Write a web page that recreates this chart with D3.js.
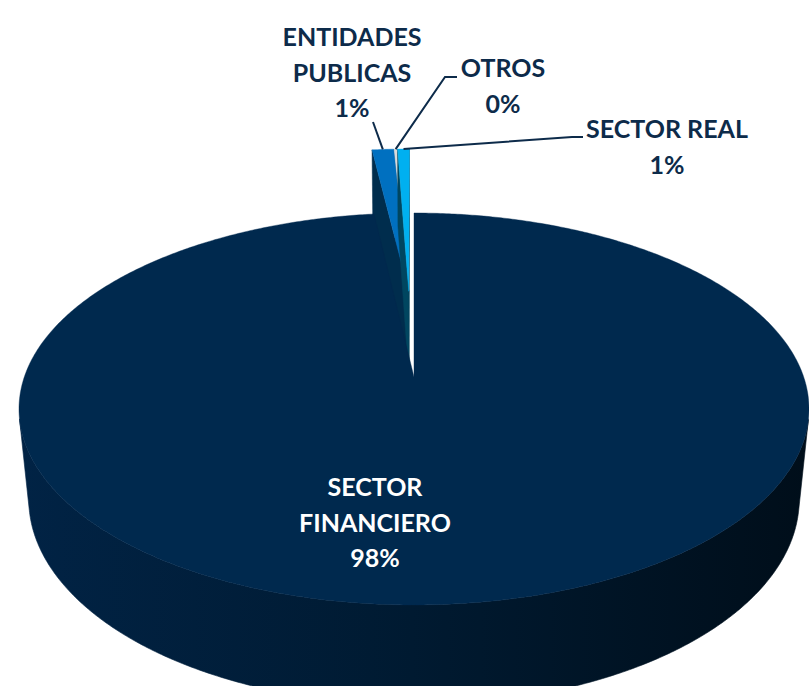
<!DOCTYPE html>
<html><head><meta charset="utf-8">
<script src="https://cdn.jsdelivr.net/npm/d3@7"></script>
<style>html,body{margin:0;padding:0;background:#fff;overflow:hidden}</style>
</head><body>
<svg id="chart" width="809" height="686"></svg>
<script>
// ---- data ----
const categories = ["SECTOR FINANCIERO", "ENTIDADES PUBLICAS", "OTROS", "SECTOR REAL"];
const labelLines = [["SECTOR", "FINANCIERO"], ["ENTIDADES", "PUBLICAS"], ["OTROS"], ["SECTOR REAL"]];
const values = [98.1, 1.1, 0.2, 0.6];
const percentLabels = ["98%", "1%", "0%", "1%"];
const colors = ["#00294E", "#0070C0", "#D9D9D9", "#00B0F0"];
const explodedFlags = [false, true, true, true];

// ---- 3D perspective set-up ----
const W = 809, H = 686;
const svg = d3.select("#chart");
const cx = 414, cy = 377, focal = 2083, dist = 5.345;
const sT = 0.4895, cT = Math.sqrt(1 - sT * sT);
const thick = 0.27, explode = 0.485, explodeDir = -0.03;
function proj(X, Y, Z) {
  const zc = dist - Z * cT - Y * sT;
  return [cx + focal * X / zc, cy + focal * (Z * sT - Y * cT) / zc];
}
const cam = [0, dist * sT, dist * cT];
const rim = a => [Math.sin(a), -Math.cos(a)];

const pie = d3.pie().sort(null).value(d => d)(values);
const line = d3.line();

function darken(col, k) {
  const c = d3.rgb(col);
  return d3.rgb(c.r * k, c.g * k, c.b * k).formatHex();
}

// gradient for side walls
const defs = svg.append("defs");
const grad = defs.append("linearGradient").attr("id", "wallGrad")
  .attr("gradientUnits", "userSpaceOnUse").attr("x1", 17).attr("x2", 808).attr("y1", 0).attr("y2", 0);
grad.append("stop").attr("offset", 0).attr("stop-color", "#012345");
grad.append("stop").attr("offset", 0.5).attr("stop-color", "#001A31");
grad.append("stop").attr("offset", 1).attr("stop-color", "#000E1A");

const gPie = svg.append("g");

function drawSlice(p, i) {
  const ox = explodedFlags[i] ? explode * Math.sin(explodeDir) : 0;
  const oz = explodedFlags[i] ? -explode * Math.cos(explodeDir) : 0;
  const a0 = p.startAngle, a1 = p.endAngle;
  const P = (a, r, Y) => { const [x, z] = rim(a); return proj(ox + r * x, Y, oz + r * z); };
  const g = gPie.append("g").attr("class", "slice-" + i);
  const step = 0.5 * Math.PI / 180;
  const n = Math.max(2, Math.ceil((a1 - a0) / step));
  const angs = d3.range(n + 1).map(k => a0 + (a1 - a0) * k / n);

  // cut faces
  const faces = [];
  [[a0, -1], [a1, 1]].forEach(([a, sg]) => {
    const nx = sg * Math.cos(a), nz = sg * Math.sin(a);
    const vis = nx * (cam[0] - ox) + nz * (cam[2] - oz);
    if (vis > 1e-6 && (a1 - a0) < 2 * Math.PI - 1e-6) {
      faces.push([P(a, 0, 0), P(a, 1, 0), P(a, 1, -thick), P(a, 0, -thick)]);
    }
  });
  faces.forEach(f => g.append("path").attr("d", line(f) + "Z")
    .attr("fill", darken(colors[i], 0.4)).attr("stroke", darken(colors[i], 0.4)).attr("stroke-width", 0.5));

  // outer wall: visible runs
  let run = [];
  const runs = [];
  for (let k = 0; k < n; k++) {
    const am = (angs[k] + angs[k + 1]) / 2;
    const [x, z] = rim(am);
    const vis = x * (cam[0] - ox - x) + z * (cam[2] - oz - z);
    if (vis > 0) { if (!run.length) run.push(angs[k]); run.push(angs[k + 1]); }
    else if (run.length) { runs.push(run); run = []; }
  }
  if (run.length) runs.push(run);
  runs.forEach(r => {
    const pts = r.map(a => P(a, 1, 0)).concat(r.slice().reverse().map(a => P(a, 1, -thick)));
    const fill = i === 0 ? "url(#wallGrad)" : darken(colors[i], 0.6);
    g.append("path").attr("d", line(pts) + "Z").attr("fill", fill).attr("stroke", fill).attr("stroke-width", 0.6);
  });

  // top face
  const top = [P(0, 0, 0)].concat(angs.map(a => P(a, 1, 0)));
  g.append("path").attr("d", line(top) + "Z").attr("fill", colors[i])
    .attr("stroke", colors[i]).attr("stroke-width", 0.4);
  return { anchor: P((a0 + a1) / 2, 1, 0) };
}

// exploded (rear) slices first, then main slice
const anchors = [];
[2, 1, 3, 0].forEach(i => { anchors[i] = drawSlice(pie[i], i).anchor; });

// ---- labels ----
const txtCol = "#0D2B4A";
const font = "Lato, 'Open Sans', sans-serif";
const labelPos = [
  { x: 375, y: 496, color: "#FFFFFF" },
  { x: 352, y: 46, color: txtCol, lead: [[373, 122]] },
  { x: 503, y: 77, color: txtCol, lead: [[457, 77], [445, 77]] },
  { x: 667, y: 138, color: txtCol, lead: [[583, 137], [572, 137]] }
];
const lineGap = 35.5;
labelPos.forEach((lp, i) => {
  if (lp.lead) {
    const pts = lp.lead.concat([anchors[i]]);
    svg.append("path").attr("d", line(pts)).attr("fill", "none")
      .attr("stroke", txtCol).attr("stroke-width", 2);
  }
  const lines = labelLines[i].concat([percentLabels[i]]);
  const t = svg.append("text").attr("text-anchor", "middle")
    .attr("font-family", font).attr("font-weight", 700).attr("font-size", 25)
    .attr("fill", lp.color);
  lines.forEach((s, k) => t.append("tspan").attr("x", lp.x).attr("y", lp.y + k * lineGap).text(s));
});
</script>
</body></html>
